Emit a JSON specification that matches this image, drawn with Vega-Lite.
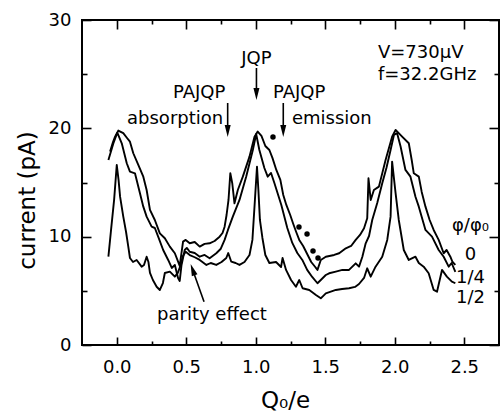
{
  "$schema": "https://vega.github.io/schema/vega-lite/v6.json",
  "width": 417,
  "height": 325,
  "autosize": {"type": "none"},
  "padding": {"left": 82, "top": 20, "right": 1, "bottom": 68},
  "background": "white",
  "config": {
    "view": {"stroke": "black", "strokeWidth": 2},
    "axis": {
      "domain": false, "grid": false, "tickColor": "black", "tickWidth": 1.6,
      "labelFont": "DejaVu Sans", "labelFontSize": 18, "labelColor": "black",
      "titleFont": "DejaVu Sans", "titleFontSize": 23, "titleFontWeight": "normal", "titleColor": "black"
    },
    "text": {"font": "DejaVu Sans", "fontSize": 18, "color": "black"}
  },
  "datasets": {
    "curves": [
      {"q":-0.048,"I":17.85,"phi":"0"},{"q":-0.027,"I":18.74,"phi":"0"},{"q":-0.012,"I":19.23,"phi":"0"},{"q":0.011,"I":19.79,"phi":"0"},{"q":0.047,"I":19.55,"phi":"0"},{"q":0.074,"I":19.11,"phi":"0"},{"q":0.095,"I":18.77,"phi":"0"},{"q":0.119,"I":17.7,"phi":"0"},{"q":0.155,"I":16.62,"phi":"0"},{"q":0.191,"I":15.54,"phi":"0"},{"q":0.215,"I":14.31,"phi":"0"},{"q":0.239,"I":12.47,"phi":"0"},{"q":0.274,"I":11.54,"phi":"0"},{"q":0.31,"I":10.31,"phi":"0"},{"q":0.346,"I":9.85,"phi":"0"},{"q":0.382,"I":9.08,"phi":"0"},{"q":0.418,"I":8.47,"phi":"0"},{"q":0.453,"I":7.3,"phi":"0"},{"q":0.477,"I":9.54,"phi":"0"},{"q":0.496,"I":9.7,"phi":"0"},{"q":0.525,"I":9.39,"phi":"0"},{"q":0.561,"I":9.51,"phi":"0"},{"q":0.597,"I":9.08,"phi":"0"},{"q":0.632,"I":9.33,"phi":"0"},{"q":0.668,"I":9.39,"phi":"0"},{"q":0.704,"I":9.6,"phi":"0"},{"q":0.74,"I":10.0,"phi":"0"},{"q":0.761,"I":10.34,"phi":"0"},{"q":0.776,"I":10.92,"phi":"0"},{"q":0.79,"I":12.0,"phi":"0"},{"q":0.804,"I":13.39,"phi":"0"},{"q":0.817,"I":15.85,"phi":"0"},{"q":0.831,"I":14.93,"phi":"0"},{"q":0.847,"I":13.08,"phi":"0"},{"q":0.871,"I":14.31,"phi":"0"},{"q":0.907,"I":15.54,"phi":"0"},{"q":0.955,"I":17.39,"phi":"0"},{"q":0.991,"I":19.23,"phi":"0"},{"q":1.014,"I":19.7,"phi":"0"},{"q":1.041,"I":19.3,"phi":"0"},{"q":1.069,"I":18.37,"phi":"0"},{"q":1.098,"I":18.0,"phi":"0"},{"q":1.12,"I":17.27,"phi":"0"},{"q":1.148,"I":16.16,"phi":"0"},{"q":1.177,"I":15.24,"phi":"0"},{"q":1.198,"I":13.85,"phi":"0"},{"q":1.22,"I":12.93,"phi":"0"},{"q":1.248,"I":12.0,"phi":"0"},{"q":1.27,"I":11.17,"phi":"0"},{"q":1.291,"I":10.43,"phi":"0"},{"q":1.313,"I":9.7,"phi":"0"},{"q":1.341,"I":9.14,"phi":"0"},{"q":1.37,"I":8.4,"phi":"0"},{"q":1.399,"I":7.66,"phi":"0"},{"q":1.428,"I":7.2,"phi":"0"},{"q":1.444,"I":6.93,"phi":"0"},{"q":1.468,"I":7.85,"phi":"0"},{"q":1.504,"I":8.15,"phi":"0"},{"q":1.564,"I":8.31,"phi":"0"},{"q":1.6,"I":8.47,"phi":"0"},{"q":1.648,"I":8.93,"phi":"0"},{"q":1.686,"I":9.14,"phi":"0"},{"q":1.719,"I":9.7,"phi":"0"},{"q":1.75,"I":10.16,"phi":"0"},{"q":1.779,"I":10.78,"phi":"0"},{"q":1.802,"I":11.7,"phi":"0"},{"q":1.811,"I":15.39,"phi":"0"},{"q":1.827,"I":13.39,"phi":"0"},{"q":1.85,"I":14.31,"phi":"0"},{"q":1.886,"I":14.62,"phi":"0"},{"q":1.934,"I":17.08,"phi":"0"},{"q":1.981,"I":19.23,"phi":"0"},{"q":2.006,"I":19.85,"phi":"0"},{"q":2.053,"I":19.23,"phi":"0"},{"q":2.101,"I":18.62,"phi":"0"},{"q":2.122,"I":17.08,"phi":"0"},{"q":2.137,"I":15.85,"phi":"0"},{"q":2.173,"I":15.54,"phi":"0"},{"q":2.194,"I":14.13,"phi":"0"},{"q":2.221,"I":12.77,"phi":"0"},{"q":2.251,"I":11.54,"phi":"0"},{"q":2.28,"I":10.62,"phi":"0"},{"q":2.316,"I":9.7,"phi":"0"},{"q":2.352,"I":8.47,"phi":"0"},{"q":2.373,"I":8.77,"phi":"0"},{"q":2.4,"I":8.15,"phi":"0"},{"q":2.416,"I":7.66,"phi":"0"},{"q":2.436,"I":7.39,"phi":"0"},
      {"q":-0.06,"I":17.08,"phi":"1/4"},{"q":-0.024,"I":18.62,"phi":"1/4"},{"q":0.004,"I":19.6,"phi":"1/4"},{"q":0.036,"I":18.62,"phi":"1/4"},{"q":0.072,"I":16.78,"phi":"1/4"},{"q":0.095,"I":16.0,"phi":"1/4"},{"q":0.131,"I":15.85,"phi":"1/4"},{"q":0.167,"I":14.01,"phi":"1/4"},{"q":0.191,"I":12.77,"phi":"1/4"},{"q":0.215,"I":11.85,"phi":"1/4"},{"q":0.251,"I":10.92,"phi":"1/4"},{"q":0.274,"I":10.8,"phi":"1/4"},{"q":0.298,"I":10.0,"phi":"1/4"},{"q":0.334,"I":8.77,"phi":"1/4"},{"q":0.37,"I":7.85,"phi":"1/4"},{"q":0.396,"I":7.11,"phi":"1/4"},{"q":0.418,"I":7.39,"phi":"1/4"},{"q":0.441,"I":6.19,"phi":"1/4"},{"q":0.453,"I":5.91,"phi":"1/4"},{"q":0.466,"I":7.39,"phi":"1/4"},{"q":0.489,"I":8.77,"phi":"1/4"},{"q":0.504,"I":8.96,"phi":"1/4"},{"q":0.525,"I":8.61,"phi":"1/4"},{"q":0.561,"I":8.49,"phi":"1/4"},{"q":0.597,"I":8.15,"phi":"1/4"},{"q":0.632,"I":8.31,"phi":"1/4"},{"q":0.668,"I":8.0,"phi":"1/4"},{"q":0.716,"I":8.47,"phi":"1/4"},{"q":0.747,"I":8.86,"phi":"1/4"},{"q":0.776,"I":9.7,"phi":"1/4"},{"q":0.8,"I":10.62,"phi":"1/4"},{"q":0.835,"I":11.85,"phi":"1/4"},{"q":0.883,"I":13.39,"phi":"1/4"},{"q":0.931,"I":15.54,"phi":"1/4"},{"q":0.979,"I":18.0,"phi":"1/4"},{"q":1.003,"I":19.48,"phi":"1/4"},{"q":1.026,"I":18.0,"phi":"1/4"},{"q":1.062,"I":16.34,"phi":"1/4"},{"q":1.086,"I":15.54,"phi":"1/4"},{"q":1.11,"I":15.88,"phi":"1/4"},{"q":1.134,"I":14.96,"phi":"1/4"},{"q":1.184,"I":12.93,"phi":"1/4"},{"q":1.227,"I":10.8,"phi":"1/4"},{"q":1.263,"I":9.42,"phi":"1/4"},{"q":1.299,"I":8.49,"phi":"1/4"},{"q":1.335,"I":7.85,"phi":"1/4"},{"q":1.37,"I":6.93,"phi":"1/4"},{"q":1.406,"I":6.28,"phi":"1/4"},{"q":1.444,"I":5.7,"phi":"1/4"},{"q":1.468,"I":6.0,"phi":"1/4"},{"q":1.504,"I":6.46,"phi":"1/4"},{"q":1.528,"I":6.62,"phi":"1/4"},{"q":1.576,"I":6.77,"phi":"1/4"},{"q":1.623,"I":6.93,"phi":"1/4"},{"q":1.671,"I":6.93,"phi":"1/4"},{"q":1.719,"I":7.54,"phi":"1/4"},{"q":1.743,"I":7.23,"phi":"1/4"},{"q":1.767,"I":8.15,"phi":"1/4"},{"q":1.791,"I":9.39,"phi":"1/4"},{"q":1.815,"I":10.06,"phi":"1/4"},{"q":1.838,"I":11.54,"phi":"1/4"},{"q":1.874,"I":13.11,"phi":"1/4"},{"q":1.91,"I":14.93,"phi":"1/4"},{"q":1.94,"I":16.34,"phi":"1/4"},{"q":1.97,"I":18.0,"phi":"1/4"},{"q":1.994,"I":19.39,"phi":"1/4"},{"q":2.017,"I":19.55,"phi":"1/4"},{"q":2.042,"I":18.32,"phi":"1/4"},{"q":2.077,"I":16.16,"phi":"1/4"},{"q":2.113,"I":15.54,"phi":"1/4"},{"q":2.149,"I":13.69,"phi":"1/4"},{"q":2.173,"I":12.77,"phi":"1/4"},{"q":2.221,"I":10.62,"phi":"1/4"},{"q":2.268,"I":10.0,"phi":"1/4"},{"q":2.316,"I":8.77,"phi":"1/4"},{"q":2.352,"I":8.15,"phi":"1/4"},{"q":2.388,"I":7.23,"phi":"1/4"},{"q":2.409,"I":7.57,"phi":"1/4"},{"q":2.436,"I":6.74,"phi":"1/4"},
      {"q":-0.06,"I":8.15,"phi":"1/2"},{"q":-0.041,"I":10.62,"phi":"1/2"},{"q":-0.019,"I":13.39,"phi":"1/2"},{"q":0.0,"I":16.62,"phi":"1/2"},{"q":0.013,"I":15.24,"phi":"1/2"},{"q":0.024,"I":13.69,"phi":"1/2"},{"q":0.047,"I":11.85,"phi":"1/2"},{"q":0.067,"I":10.43,"phi":"1/2"},{"q":0.083,"I":9.08,"phi":"1/2"},{"q":0.095,"I":8.03,"phi":"1/2"},{"q":0.117,"I":7.66,"phi":"1/2"},{"q":0.143,"I":7.85,"phi":"1/2"},{"q":0.179,"I":7.23,"phi":"1/2"},{"q":0.196,"I":7.39,"phi":"1/2"},{"q":0.215,"I":8.15,"phi":"1/2"},{"q":0.228,"I":7.66,"phi":"1/2"},{"q":0.239,"I":6.65,"phi":"1/2"},{"q":0.26,"I":6.0,"phi":"1/2"},{"q":0.287,"I":5.38,"phi":"1/2"},{"q":0.31,"I":5.08,"phi":"1/2"},{"q":0.332,"I":5.72,"phi":"1/2"},{"q":0.346,"I":6.65,"phi":"1/2"},{"q":0.382,"I":6.77,"phi":"1/2"},{"q":0.418,"I":6.31,"phi":"1/2"},{"q":0.439,"I":6.65,"phi":"1/2"},{"q":0.461,"I":7.4,"phi":"1/2"},{"q":0.475,"I":8.2,"phi":"1/2"},{"q":0.496,"I":8.6,"phi":"1/2"},{"q":0.525,"I":8.3,"phi":"1/2"},{"q":0.561,"I":8.1,"phi":"1/2"},{"q":0.597,"I":7.85,"phi":"1/2"},{"q":0.645,"I":7.39,"phi":"1/2"},{"q":0.676,"I":7.57,"phi":"1/2"},{"q":0.716,"I":7.39,"phi":"1/2"},{"q":0.754,"I":7.66,"phi":"1/2"},{"q":0.788,"I":8.03,"phi":"1/2"},{"q":0.802,"I":8.49,"phi":"1/2"},{"q":0.824,"I":7.69,"phi":"1/2"},{"q":0.855,"I":7.57,"phi":"1/2"},{"q":0.883,"I":7.39,"phi":"1/2"},{"q":0.919,"I":7.66,"phi":"1/2"},{"q":0.955,"I":8.31,"phi":"1/2"},{"q":0.976,"I":9.7,"phi":"1/2"},{"q":0.994,"I":13.39,"phi":"1/2"},{"q":1.009,"I":16.46,"phi":"1/2"},{"q":1.019,"I":14.31,"phi":"1/2"},{"q":1.03,"I":11.54,"phi":"1/2"},{"q":1.048,"I":9.88,"phi":"1/2"},{"q":1.069,"I":8.31,"phi":"1/2"},{"q":1.098,"I":7.57,"phi":"1/2"},{"q":1.146,"I":7.66,"phi":"1/2"},{"q":1.182,"I":7.2,"phi":"1/2"},{"q":1.193,"I":8.03,"phi":"1/2"},{"q":1.218,"I":6.93,"phi":"1/2"},{"q":1.254,"I":6.0,"phi":"1/2"},{"q":1.289,"I":5.38,"phi":"1/2"},{"q":1.313,"I":6.0,"phi":"1/2"},{"q":1.337,"I":5.24,"phi":"1/2"},{"q":1.385,"I":5.08,"phi":"1/2"},{"q":1.433,"I":4.62,"phi":"1/2"},{"q":1.468,"I":4.31,"phi":"1/2"},{"q":1.504,"I":4.77,"phi":"1/2"},{"q":1.576,"I":5.08,"phi":"1/2"},{"q":1.621,"I":5.17,"phi":"1/2"},{"q":1.671,"I":5.24,"phi":"1/2"},{"q":1.714,"I":5.36,"phi":"1/2"},{"q":1.743,"I":5.63,"phi":"1/2"},{"q":1.779,"I":6.19,"phi":"1/2"},{"q":1.802,"I":7.08,"phi":"1/2"},{"q":1.827,"I":6.31,"phi":"1/2"},{"q":1.862,"I":7.23,"phi":"1/2"},{"q":1.91,"I":8.15,"phi":"1/2"},{"q":1.946,"I":9.7,"phi":"1/2"},{"q":1.97,"I":11.85,"phi":"1/2"},{"q":1.981,"I":16.93,"phi":"1/2"},{"q":2.006,"I":14.01,"phi":"1/2"},{"q":2.029,"I":11.54,"phi":"1/2"},{"q":2.065,"I":8.77,"phi":"1/2"},{"q":2.101,"I":7.85,"phi":"1/2"},{"q":2.149,"I":8.15,"phi":"1/2"},{"q":2.173,"I":7.57,"phi":"1/2"},{"q":2.208,"I":7.23,"phi":"1/2"},{"q":2.244,"I":6.62,"phi":"1/2"},{"q":2.28,"I":5.08,"phi":"1/2"},{"q":2.304,"I":4.92,"phi":"1/2"},{"q":2.34,"I":6.93,"phi":"1/2"},{"q":2.375,"I":6.31,"phi":"1/2"},{"q":2.411,"I":5.85,"phi":"1/2"},{"q":2.436,"I":5.7,"phi":"1/2"}
    ],
    "dots": [
      {"q":1.124,"I":19.2},{"q":1.311,"I":10.89},{"q":1.369,"I":10.25},{"q":1.412,"I":8.68},{"q":1.448,"I":8.03}
    ],
    "textLeft": [
      {"q":1.879,"I":26.49,"t":"V=730μV"},
      {"q":1.879,"I":24.46,"t":"f=32.2GHz"},
      {"q":0.405,"I":22.8,"t":"PAJQP"},
      {"q":0.074,"I":20.4,"t":"absorption"},
      {"q":1.124,"I":22.8,"t":"PAJQP"},
      {"q":1.26,"I":20.4,"t":"emission"},
      {"q":0.29,"I":2.31,"t":"parity effect"}
    ],
    "textCenter": [
      {"q":1.005,"I":25.94,"t":"JQP"},
      {"q":2.545,"I":10.52,"t":"φ/φ₀"},
      {"q":2.545,"I":7.85,"t":"0"},
      {"q":2.545,"I":5.72,"t":"1/4"},
      {"q":2.545,"I":3.88,"t":"1/2"}
    ],
    "shafts": [
      {"q":1.005,"I":25.57,"q2":1.005,"I2":23.2},
      {"q":0.798,"I":22.34,"q2":0.798,"I2":19.8},
      {"q":1.198,"I":22.34,"q2":1.198,"I2":19.8},
      {"q":0.628,"I":4.0,"q2":0.546,"I2":6.95}
    ],
    "heads": [
      {"q":1.005,"I":23.17},{"q":0.798,"I":19.75},{"q":1.198,"I":19.75}
    ],
    "slantHead": [
      {"q":0.546,"I":6.95}
    ]
  },
  "layer": [
    {
      "data": {"name": "curves"},
      "mark": {"type": "line", "color": "black", "strokeWidth": 1.9, "strokeJoin": "round"},
      "encoding": {
        "x": {"field": "q", "type": "quantitative", "scale": {"domain": [-0.25, 2.75], "nice": false, "zero": false},
              "axis": {"orient": "bottom", "values": [0, 0.5, 1, 1.5, 2, 2.5], "format": ".1f", "tickSize": -8, "labelPadding": 21,
                       "title": "Q₀/e", "titleX": 203, "titleY": 62, "titleBaseline": "alphabetic", "titleAlign": "center"}},
        "y": {"field": "I", "type": "quantitative", "scale": {"domain": [0, 30], "nice": false, "zero": false},
              "axis": {"orient": "left", "values": [0, 10, 20, 30], "tickSize": -9, "labelPadding": 20,
                       "title": "current (pA)", "titleX": -48, "titleY": 180, "titleAngle": 270, "titleBaseline": "alphabetic", "titleAlign": "center"}},
        "detail": {"field": "phi", "type": "nominal"}
      }
    },
    {
      "data": {"name": "dots"},
      "mark": {"type": "point", "filled": true, "color": "black", "size": 30, "opacity": 1},
      "encoding": {
        "x": {"field": "q", "type": "quantitative", "scale": {"domain": [-0.25, 2.75], "nice": false, "zero": false},
              "axis": {"orient": "bottom", "values": [0.25, 0.75, 1.25, 1.75, 2.25], "tickSize": -4, "labels": false, "title": null}},
        "y": {"field": "I", "type": "quantitative", "scale": {"domain": [0, 30], "nice": false, "zero": false},
              "axis": {"orient": "left", "values": [5, 15, 25], "tickSize": -5, "labels": false, "title": null}}
      }
    },
    {
      "data": {"name": "textLeft"},
      "mark": {"type": "text", "align": "left", "baseline": "alphabetic", "font": "DejaVu Sans", "fontSize": 18, "color": "black"},
      "encoding": {
        "x": {"field": "q", "type": "quantitative", "scale": {"domain": [-0.25, 2.75], "nice": false, "zero": false},
              "axis": {"orient": "top", "values": [0, 0.5, 1, 1.5, 2, 2.5], "tickSize": -9, "labels": false, "title": null}},
        "y": {"field": "I", "type": "quantitative", "scale": {"domain": [0, 30], "nice": false, "zero": false},
              "axis": {"orient": "right", "values": [0, 10, 20, 30], "tickSize": -10, "labels": false, "title": null}},
        "text": {"field": "t", "type": "nominal"}
      }
    },
    {
      "data": {"name": "textCenter"},
      "mark": {"type": "text", "align": "center", "baseline": "alphabetic", "font": "DejaVu Sans", "fontSize": 18, "color": "black"},
      "encoding": {
        "x": {"field": "q", "type": "quantitative", "scale": {"domain": [-0.25, 2.75], "nice": false, "zero": false},
              "axis": {"orient": "top", "values": [0.25, 0.75, 1.25, 1.75, 2.25], "tickSize": -4, "labels": false, "title": null}},
        "y": {"field": "I", "type": "quantitative", "scale": {"domain": [0, 30], "nice": false, "zero": false},
              "axis": {"orient": "right", "values": [5, 15, 25], "tickSize": -5, "labels": false, "title": null}},
        "text": {"field": "t", "type": "nominal"}
      }
    },
    {
      "data": {"name": "shafts"},
      "mark": {"type": "rule", "color": "black", "strokeWidth": 1.6},
      "encoding": {
        "x": {"field": "q", "type": "quantitative", "scale": {"domain": [-0.25, 2.75], "nice": false, "zero": false}, "axis": null},
        "y": {"field": "I", "type": "quantitative", "scale": {"domain": [0, 30], "nice": false, "zero": false}, "axis": null},
        "x2": {"field": "q2"},
        "y2": {"field": "I2"}
      }
    },
    {
      "data": {"name": "heads"},
      "mark": {"type": "point", "shape": "M-0.5,-1L0.5,-1L0,1Z", "filled": true, "color": "black", "size": 144, "opacity": 1, "strokeWidth": 0},
      "encoding": {
        "x": {"field": "q", "type": "quantitative", "scale": {"domain": [-0.25, 2.75], "nice": false, "zero": false}, "axis": null},
        "y": {"field": "I", "type": "quantitative", "scale": {"domain": [0, 30], "nice": false, "zero": false}, "axis": null}
      }
    },
    {
      "data": {"name": "slantHead"},
      "mark": {"type": "point", "shape": "M-0.5,1L0.5,1L0,-1Z", "angle": 340.5, "filled": true, "color": "black", "size": 144, "opacity": 1, "strokeWidth": 0},
      "encoding": {
        "x": {"field": "q", "type": "quantitative", "scale": {"domain": [-0.25, 2.75], "nice": false, "zero": false}, "axis": null},
        "y": {"field": "I", "type": "quantitative", "scale": {"domain": [0, 30], "nice": false, "zero": false}, "axis": null}
      }
    }
  ],
  "resolve": {"axis": {"x": "independent", "y": "independent"}}
}
